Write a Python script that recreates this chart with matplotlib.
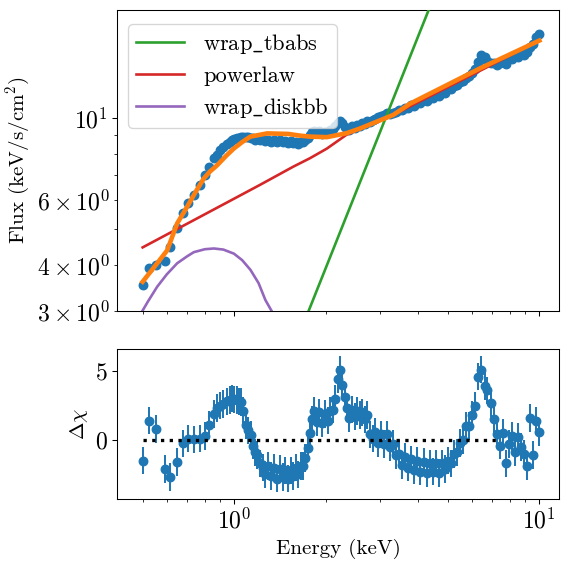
import matplotlib
matplotlib.use("Agg")
import matplotlib.pyplot as plt
import numpy as np

plt.rcParams['font.family'] = 'serif'
plt.rcParams['font.serif'] = ['cmr10', 'DejaVu Serif']
plt.rcParams['mathtext.fontset'] = 'cm'
plt.rcParams['axes.formatter.use_mathtext'] = True
plt.rcParams['axes.unicode_minus'] = False
plt.rcParams['font.size'] = 16
plt.rcParams['xtick.labelsize'] = 18
plt.rcParams['ytick.labelsize'] = 18

# ---- data ----
energy = [0.50, 0.525, 0.555, 0.59, 0.615, 0.648, 0.68, 0.705, 0.735, 0.77,
          0.80, 0.825, 0.855, 0.875, 0.90, 0.92, 0.945, 0.965, 0.985, 1.00,
          1.02, 1.035, 1.05, 1.07, 1.09, 1.11, 1.13, 1.15, 1.17, 1.19,
          1.21, 1.24, 1.26, 1.29, 1.32, 1.35, 1.38, 1.41, 1.44, 1.47,
          1.50, 1.53, 1.56, 1.59, 1.62, 1.65, 1.68, 1.71, 1.74, 1.77,
          1.80, 1.83, 1.86, 1.90, 1.94, 1.98, 2.02, 2.06, 2.10, 2.14,
          2.18, 2.22, 2.26, 2.30, 2.34, 2.38, 2.43, 2.48, 2.53, 2.58,
          2.63, 2.68, 2.73, 2.78, 2.84, 2.90, 2.96, 3.03, 3.10, 3.17,
          3.24, 3.31, 3.39, 3.47, 3.55, 3.63, 3.72, 3.80, 3.89, 3.98,
          4.07, 4.17, 4.27, 4.37, 4.47, 4.57, 4.68, 4.79, 4.90, 5.01,
          5.13, 5.25, 5.37, 5.50, 5.62, 5.75, 5.89, 6.03, 6.17, 6.31,
          6.46, 6.61, 6.76, 6.92, 7.08, 7.24, 7.41, 7.59, 7.76, 7.94,
          8.13, 8.32, 8.51, 8.71, 8.91, 9.12, 9.33, 9.55, 9.77, 10.0]

flux = [3.53, 3.93, 4.00, 4.10, 4.48, 5.04, 5.53, 5.89, 6.20, 6.59,
        7.01, 7.38, 7.78, 7.95, 8.20, 8.35, 8.50, 8.62, 8.72, 8.78,
        8.82, 8.85, 8.88, 8.90, 8.88, 8.86, 8.84, 8.82, 8.74, 8.80,
        8.70, 8.78, 8.66, 8.74, 8.62, 8.72, 8.60, 8.70, 8.58, 8.68,
        8.56, 8.64, 8.53, 8.61, 8.50, 8.60, 8.58, 8.70, 8.80, 9.00,
        9.15, 9.24, 9.08, 9.22, 9.06, 9.18, 9.12, 9.28, 9.35, 9.50,
        9.70, 9.80, 9.70, 9.45, 9.35, 9.30, 9.48, 9.40, 9.58, 9.52,
        9.68, 9.62, 9.78, 9.74, 9.85, 9.95, 10.05, 10.15, 10.18, 10.28,
        10.24, 10.33, 10.38, 10.48, 10.52, 10.66, 10.64, 10.82, 10.80, 10.98,
        10.96, 11.18, 11.12, 11.34, 11.30, 11.52, 11.44, 11.70, 11.68, 11.95,
        12.00, 12.22, 12.30, 12.50, 12.62, 12.82, 12.96, 13.20, 13.60, 14.20,
        14.80, 14.60, 14.30, 14.10, 14.05, 13.95, 14.10, 14.30, 14.00, 14.50,
        14.40, 14.70, 14.60, 14.90, 14.85, 15.10, 15.60, 15.90, 16.60, 16.90]

residual = [-1.5, 1.4, 0.8, -2.1, -2.7, -1.6, -0.25, 0.1, 0.05, 0.1,
            0.3, 1.1, 1.9, 2.3, 2.5, 2.6, 2.8, 2.9, 3.0, 2.95,
            2.9, 2.8, 2.75, 2.1, 1.1, 0.7, 0.35, -0.4, -0.9, -1.1,
            -1.7, -2.0, -2.5, -1.9, -2.6, -2.0, -2.8, -2.1, -2.7, -2.2,
            -2.8, -2.2, -2.6, -2.0, -2.5, -1.9, -1.9, -1.3, -0.6, 0.5,
            1.5, 2.1, 1.3, 2.0, 1.2, 1.9, 1.4, 2.1, 2.2, 3.0,
            4.4, 5.1, 4.0, 3.1, 2.3, 1.6, 2.2, 1.7, 2.1, 1.8,
            2.0, 1.5, 1.8, 0.4, 0.1, 0.6, -0.2, 0.4, -0.3, 0.4,
            -0.5, -0.3, -1.1, -1.0, -1.8, -1.2, -2.0, -1.4, -2.2, -1.5,
            -2.3, -1.6, -2.4, -1.7, -2.3, -1.7, -2.4, -1.7, -2.1, -1.5,
            -1.7, -1.0, -0.9, -0.2, 0.0, 1.0, 1.0, 1.8, 2.5, 4.6,
            5.1, 3.9, 3.6, 2.7, 1.5, 0.4, -0.4, 0.5, -1.7, -0.3,
            0.3, -0.9, 0.2, -0.5, -1.0, -1.9, 1.6, -1.1, 1.4, 0.6]

residual_err = [1.0] * len(energy)

# total model (orange)
model_energy = [0.50, 0.558, 0.602, 0.649, 0.70, 0.75, 0.794, 0.83, 0.877, 0.94,
                0.995, 1.06, 1.128, 1.28, 1.50, 1.65, 1.77, 2.01, 2.33, 2.58,
                3.32, 3.76, 6.39, 10.0]
model_flux = [3.60, 4.04, 4.38, 5.18, 5.75, 6.35, 6.86, 7.15, 7.44, 7.90,
              8.26, 8.60, 8.90, 9.08, 9.05, 8.95, 8.90, 8.87, 9.09, 9.36,
              10.19, 10.92, 13.62, 16.2]

# components
tbabs_energy = [1.6, 2.0, 2.5, 3.0, 4.0, 5.0]
tbabs_flux = [2.49, 3.95, 6.27, 9.14, 16.6, 26.3]

pl_energy = [0.50, 1.00, 1.21, 1.56, 1.77, 2.01, 2.33, 3.32, 10.0]
pl_flux = [4.46, 6.05, 6.58, 7.38, 7.78, 8.26, 9.00, 10.19, 16.2]

disk_energy = [0.499, 0.52, 0.558, 0.60, 0.649, 0.70, 0.736, 0.80, 0.856, 0.92,
               0.996, 1.06, 1.128, 1.20, 1.264, 1.34]
disk_flux = [3.00, 3.18, 3.49, 3.77, 4.04, 4.22, 4.33, 4.41, 4.43, 4.40,
             4.29, 4.12, 3.88, 3.57, 3.21, 2.95]

labels = ['wrap$\\_$tbabs', 'powerlaw', 'wrap$\\_$diskbb']

# ---- figure ----
fig = plt.figure(figsize=(6, 6), dpi=569 / 6)
W = H = 569.0
ax1 = fig.add_axes([117 / W, 1 - 311 / H, (559 - 117) / W, (311 - 10) / H])
ax2 = fig.add_axes([117 / W, 1 - 499 / H, (559 - 117) / W, (499 - 349) / H], sharex=ax1)

ax1.plot(energy, flux, 'o', color='C0', ms=6.5, zorder=2)
ax1.plot(tbabs_energy, tbabs_flux, color='C2', lw=2, label=labels[0], zorder=3)
ax1.plot(pl_energy, pl_flux, color='C3', lw=2, label=labels[1], zorder=3)
ax1.plot(disk_energy, disk_flux, color='C4', lw=2, label=labels[2], zorder=3)
ax1.plot(model_energy, model_flux, color='C1', lw=3.5, zorder=4)

ax1.set_xscale('log')
ax1.set_yscale('log')
ax1.set_xlim(0.412, 11.6)
ax1.set_ylim(3.0, 19.6)
ax1.set_ylabel('Flux (keV/s/cm$^2$)')
ax1.tick_params(labelbottom=False)
leg = ax1.legend(loc='upper left', fontsize=17, handlelength=2.15,
                 labelspacing=0.45, borderpad=0.35, handletextpad=0.85,
                 bbox_to_anchor=(0.0, 0.99))

ax2.errorbar(energy, residual, yerr=residual_err, fmt='o', color='C0', ms=6.5, zorder=2)
ax2.plot([0.5, 7.3], [0, 0], 'k:', lw=2.5, zorder=3)
ax2.set_ylim(-4.28, 6.6)
ax2.set_yticks([0, 5])
ax2.set_ylabel(r'$\Delta\chi$')
ax2.set_xlabel('Energy (keV)')

fig.savefig('out.png', dpi=569 / 6)
